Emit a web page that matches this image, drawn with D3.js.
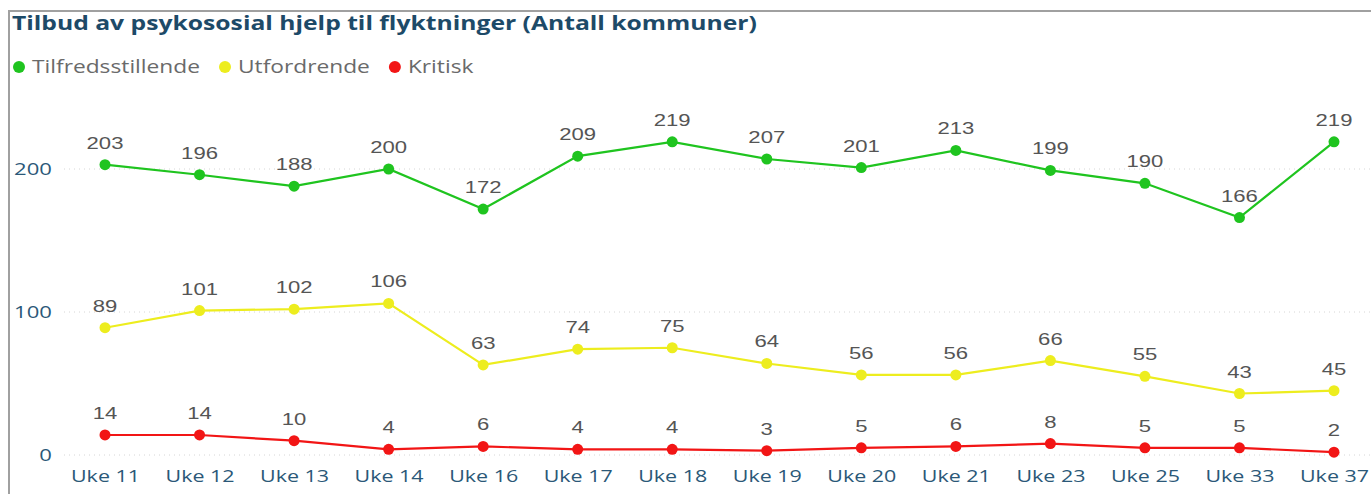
<!DOCTYPE html>
<html>
<head>
<meta charset="utf-8">
<script src="https://cdn.jsdelivr.net/npm/d3@7"></script>
<style>
  body { margin: 0; background: #fff; }
  svg { display: block; font-family: "Open Sans", "Noto Sans", sans-serif; }
</style>
</head>
<body>
<div id="chart"></div>
<script>
var weeks = ["Uke 11", "Uke 12", "Uke 13", "Uke 14", "Uke 16", "Uke 17", "Uke 18",
  "Uke 19", "Uke 20", "Uke 21", "Uke 23", "Uke 25", "Uke 33", "Uke 37"];
var tilfredsstillende = [203, 196, 188, 200, 172, 209, 219, 207, 201, 213, 199, 190, 166, 219];
var utfordrende = [89, 101, 102, 106, 63, 74, 75, 64, 56, 56, 66, 55, 43, 45];
var kritisk = [14, 14, 10, 4, 6, 4, 4, 3, 5, 6, 8, 5, 5, 2];
var seriesNames = ["Tilfredsstillende", "Utfordrende", "Kritisk"];
var seriesColors = ["#1fc41f", "#eded1e", "#f21515"];
var yTicks = [0, 100, 200];

var width = 1371, height = 494;
// the source picture is stretched sideways, so text gets the same stretch
var stretch = "scale(1.3,1)";

var svg = d3.select("#chart").append("svg")
  .attr("width", width)
  .attr("height", height);

// frame
svg.append("path")
  .attr("d", "M9,494V11H1371")
  .attr("fill", "none")
  .attr("stroke", "#a0a0a0")
  .attr("stroke-width", 2);

svg.append("text")
  .attr("transform", "translate(12,30) " + stretch)
  .attr("font-size", "19px")
  .attr("font-weight", "bold")
  .attr("fill", "#1d4a68")
  .text("Tilbud av psykososial hjelp til flyktninger (Antall kommuner)");

// legend, laid out one item after the other
var legend = svg.append("g").attr("class", "legend");
var legX = 19;
for (var i = 0; i < seriesNames.length; i++) {
  var item = legend.append("g")
    .attr("transform", "translate(" + legX + ",67)");
  item.append("circle")
    .attr("r", 6)
    .attr("fill", seriesColors[i]);
  var t = item.append("text")
    .attr("transform", "translate(13,6) " + stretch)
    .attr("font-size", "17.5px")
    .attr("fill", "#6a6a6a")
    .text(seriesNames[i]);
  legX = legX + 13 + t.node().getComputedTextLength() * 1.3 + 25;
}

var x = d3.scalePoint()
  .domain(weeks)
  .range([105, 1334]);

var y = d3.scaleLinear()
  .domain([0, 200])
  .range([455, 169]);

// gridlines
svg.selectAll("line.grid")
  .data(yTicks)
  .enter()
  .append("line")
  .attr("class", "grid")
  .attr("x1", 64)
  .attr("x2", width)
  .attr("y1", function(d) { return y(d); })
  .attr("y2", function(d) { return y(d); })
  .attr("stroke", "#d6d6d6")
  .attr("stroke-width", 1)
  .attr("stroke-dasharray", "1,4");

// y axis
var yAxis = svg.append("g")
  .attr("transform", "translate(52,0)")
  .call(d3.axisLeft(y).tickValues(yTicks).tickSize(0).tickPadding(0));
yAxis.select(".domain").remove();
yAxis.selectAll("text")
  .attr("transform", stretch)
  .attr("font-size", "17px")
  .attr("font-family", "\"Open Sans\", \"Noto Sans\", sans-serif")
  .attr("fill", "#2b5878");

// x axis
var xAxis = svg.append("g")
  .attr("transform", "translate(0,466)")
  .call(d3.axisBottom(x).tickSize(0).tickPadding(0));
xAxis.select(".domain").remove();
xAxis.selectAll("text")
  .attr("y", 16)
  .attr("dy", 0)
  .attr("transform", stretch)
  .attr("font-size", "16.5px")
  .attr("font-family", "\"Open Sans\", \"Noto Sans\", sans-serif")
  .attr("fill", "#2b5878");

var allSeries = [tilfredsstillende, utfordrende, kritisk];
var line = d3.line()
  .x(function(d, i) { return x(weeks[i]); })
  .y(function(d) { return y(d); });

for (var s = 0; s < allSeries.length; s++) {
  var g = svg.append("g").attr("class", "series_" + s);
  g.append("path")
    .datum(allSeries[s])
    .attr("d", line)
    .attr("fill", "none")
    .attr("stroke", seriesColors[s])
    .attr("stroke-width", 2.2);
  g.selectAll("circle")
    .data(allSeries[s])
    .enter()
    .append("circle")
    .attr("cx", function(d, i) { return x(weeks[i]); })
    .attr("cy", function(d) { return y(d); })
    .attr("r", 5.5)
    .attr("fill", seriesColors[s]);
  g.selectAll("text")
    .data(allSeries[s])
    .enter()
    .append("text")
    .attr("transform", function(d, i) {
      return "translate(" + x(weeks[i]) + "," + (y(d) - 16) + ") " + stretch;
    })
    .attr("text-anchor", "middle")
    .attr("font-family", "\"Liberation Sans\", Arial, sans-serif")
    .attr("font-size", "17px")
    .attr("fill", "#555")
    .text(function(d) { return d; });
}
</script>
</body>
</html>
